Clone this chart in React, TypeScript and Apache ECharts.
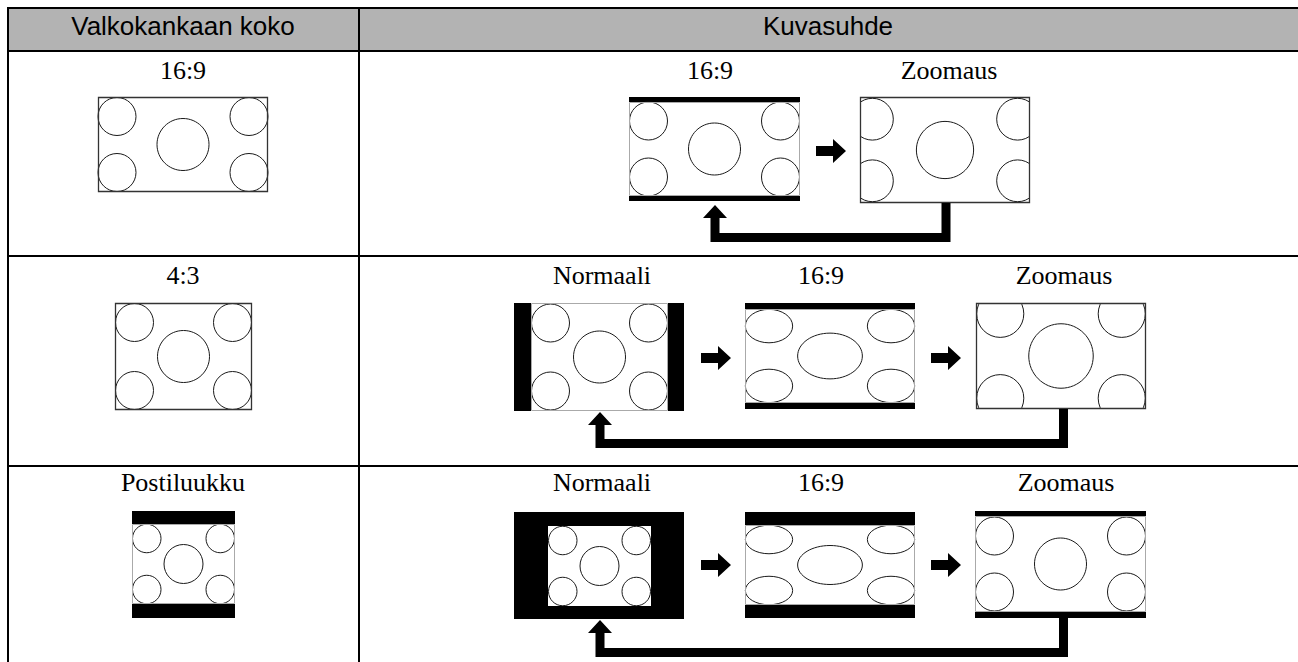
import React, { useEffect, useRef } from "react";
import * as echarts from "echarts";

// ---- texts ----
const headerLabels = ["Valkokankaan koko", "Kuvasuhde"];
const screenSizeLabels = ["16:9", "4:3", "Postiluukku"];
const aspectLabelsRow1 = ["16:9", "Zoomaus"];
const aspectLabelsRow2 = ["Normaali", "16:9", "Zoomaus"];
const aspectLabelsRow3 = ["Normaali", "16:9", "Zoomaus"];

// ---- base picture contents (offsets from picture centre) ----
const scene169 = { dx: 66, dy: 28, r: 19, rc: 26 };
const scene43 = { dx: 49, dy: 34, r: 19, rc: 26 };

// ---- layout ----
const W = 1298;
const H = 662;
const SANS = "Liberation Sans, Arial, sans-serif";
const SERIF = "Liberation Serif, Times New Roman, serif";

type Box = [number, number, number, number];
interface Screen {
  outer: Box | null;
  inner: Box;
  scene: typeof scene169;
  sx: number;
  sy: number;
  border: "dark" | "light" | "none";
  clip: boolean;
}

const screens: Screen[] = [
  // left column
  { outer: null, inner: [98, 97, 170, 95], scene: scene169, sx: 1, sy: 1, border: "dark", clip: false },
  { outer: null, inner: [115, 303, 137, 107], scene: scene43, sx: 1, sy: 1, border: "dark", clip: false },
  { outer: [132, 511, 103, 107], inner: [132, 524, 103, 80], scene: scene43, sx: 0.75, sy: 0.75, border: "light", clip: false },
  // row 1
  { outer: [629, 97, 171, 104], inner: [629, 102, 171, 94], scene: scene169, sx: 1, sy: 1, border: "light", clip: false },
  { outer: null, inner: [860, 97, 170, 106], scene: scene169, sx: 1.1, sy: 1.1, border: "dark", clip: true },
  // row 2
  { outer: [514, 303, 170, 108], inner: [531, 303, 137, 108], scene: scene43, sx: 1, sy: 1, border: "light", clip: false },
  { outer: [745, 303, 170, 106], inner: [745, 309, 170, 94], scene: scene43, sx: 1.245, sy: 0.88, border: "light", clip: false },
  { outer: null, inner: [976, 303, 170, 106], scene: scene43, sx: 1.24, sy: 1.24, border: "dark", clip: true },
  // row 3
  { outer: [514, 512, 170, 107], inner: [548, 526, 103, 80], scene: scene43, sx: 0.75, sy: 0.75, border: "none", clip: false },
  { outer: [745, 512, 170, 106], inner: [745, 525, 170, 80], scene: scene43, sx: 1.245, sy: 0.75, border: "light", clip: false },
  { outer: [975, 511, 171, 107], inner: [975, 516, 171, 96], scene: scene169, sx: 1, sy: 1, border: "light", clip: false },
];

const leftLabelPos = [[183, 70], [183, 275], [183, 482]];
const row1LabelPos = [[710, 70], [949, 70]];
const row2LabelPos = [[602, 275], [821, 275], [1064, 275]];
const row3LabelPos = [[602, 482], [821, 482], [1066, 482]];

const rightArrows = [[816, 151], [701, 358], [931, 358], [701, 565], [931, 565]];
// leftX, rightX, tipY, barTopY, rightTopY
const returnArrows = [
  [715, 946, 205, 233, 203],
  [600, 1063.5, 412, 439, 409],
  [600, 1063.5, 620, 648, 618],
];

function buildElements() {
  const els: any[] = [];
  // white page
  els.push({ type: "rect", shape: { x: 0, y: 0, width: W, height: H }, style: { fill: "#fff" }, silent: true });
  // header background
  els.push({ type: "rect", shape: { x: 9, y: 9, width: W - 9, height: 41 }, style: { fill: "#b3b3b3" }, silent: true });

  // screens
  screens.forEach((s) => {
    const [ix, iy, iw, ih] = s.inner;
    if (s.outer) {
      const [ox, oy, ow, oh] = s.outer;
      els.push({ type: "rect", shape: { x: ox, y: oy, width: ow, height: oh }, style: { fill: "#000" }, silent: true });
    }
    els.push({ type: "rect", shape: { x: ix, y: iy, width: iw, height: ih }, style: { fill: "#fff" }, silent: true });
    const cx = ix + iw / 2;
    const cy = iy + ih / 2;
    const sc = s.scene;
    const stroke = { fill: "none", stroke: "#1a1a1a", lineWidth: 1 };
    const corners = [
      [-1, -1],
      [1, -1],
      [-1, 1],
      [1, 1],
    ];
    corners.forEach(([a, b]) => {
      els.push({
        type: "ellipse",
        shape: { cx: cx + a * sc.dx * s.sx, cy: cy + b * sc.dy * s.sy, rx: sc.r * s.sx, ry: sc.r * s.sy },
        style: stroke,
        silent: true,
      });
    });
    els.push({
      type: "ellipse",
      shape: { cx, cy, rx: sc.rc * s.sx, ry: sc.rc * s.sy },
      style: stroke,
      silent: true,
    });
    if (s.clip) {
      const m = 30;
      els.push({ type: "rect", shape: { x: ix - m, y: iy - m, width: iw + 2 * m, height: m }, style: { fill: "#fff" }, silent: true });
      els.push({ type: "rect", shape: { x: ix - m, y: iy + ih, width: iw + 2 * m, height: m }, style: { fill: "#fff" }, silent: true });
      els.push({ type: "rect", shape: { x: ix - m, y: iy, width: m, height: ih }, style: { fill: "#fff" }, silent: true });
      els.push({ type: "rect", shape: { x: ix + iw, y: iy, width: m, height: ih }, style: { fill: "#fff" }, silent: true });
    }
    if (s.border !== "none") {
      els.push({
        type: "rect",
        shape: { x: ix + 0.5, y: iy + 0.5, width: iw - 1, height: ih - 1 },
        style: {
          fill: "none",
          stroke: s.border === "dark" ? "#333" : "#aaa",
          lineWidth: s.border === "dark" ? 1.3 : 1,
        },
        silent: true,
      });
    }
  });

  // right arrows
  const sh = 5, hh = 12, sl = 17, tl = 30;
  rightArrows.forEach(([x0, cy]) => {
    els.push({
      type: "polygon",
      shape: {
        points: [
          [x0, cy - sh],
          [x0 + sl, cy - sh],
          [x0 + sl, cy - hh],
          [x0 + tl, cy],
          [x0 + sl, cy + hh],
          [x0 + sl, cy + sh],
          [x0, cy + sh],
        ],
      },
      style: { fill: "#000" },
      silent: true,
    });
  });

  // return arrows
  const t = 9, hw = 12, hl = 13;
  returnArrows.forEach(([lx, rx, tipY, barY, rTop]) => {
    const base = tipY + hl;
    const bottom = barY + t;
    els.push({
      type: "polygon",
      shape: {
        points: [
          [lx, tipY],
          [lx + hw, base],
          [lx + t / 2, base],
          [lx + t / 2, barY],
          [rx - t / 2, barY],
          [rx - t / 2, rTop],
          [rx + t / 2, rTop],
          [rx + t / 2, bottom],
          [lx - t / 2, bottom],
          [lx - t / 2, base],
          [lx - hw, base],
        ],
      },
      style: { fill: "#000" },
      silent: true,
    });
  });

  // texts
  const txt = (text: string, x: number, y: number, family: string, size: number) => ({
    type: "text",
    x,
    y,
    style: {
      text,
      fill: "#000",
      fontSize: size,
      fontFamily: family,
      align: "center",
      verticalAlign: "middle",
      textAlign: "center",
      textVerticalAlign: "middle",
    },
    silent: true,
  });
  els.push(txt(headerLabels[0], 183, 26, SANS, 26));
  els.push(txt(headerLabels[1], 828, 26, SANS, 26));
  screenSizeLabels.forEach((l, i) => els.push(txt(l, leftLabelPos[i][0], leftLabelPos[i][1], SERIF, 26)));
  aspectLabelsRow1.forEach((l, i) => els.push(txt(l, row1LabelPos[i][0], row1LabelPos[i][1], SERIF, 26)));
  aspectLabelsRow2.forEach((l, i) => els.push(txt(l, row2LabelPos[i][0], row2LabelPos[i][1], SERIF, 26)));
  aspectLabelsRow3.forEach((l, i) => els.push(txt(l, row3LabelPos[i][0], row3LabelPos[i][1], SERIF, 26)));

  // table lines
  const line = (x: number, y: number, w: number, h: number) => ({
    type: "rect",
    shape: { x, y, width: w, height: h },
    style: { fill: "#000" },
    silent: true,
  });
  els.push(line(7, 7, W - 7, 2));
  els.push(line(7, 50, W - 7, 2));
  els.push(line(7, 255, W - 7, 2));
  els.push(line(7, 465, W - 7, 2));
  els.push(line(7, 7, 2, H - 7));
  els.push(line(358, 7, 2, H - 7));
  return els;
}

export default function App() {
  const ref = useRef<HTMLDivElement>(null);
  useEffect(() => {
    if (!ref.current) return;
    const chart = echarts.init(ref.current, undefined, { renderer: "svg" });
    chart.setOption({
      animation: false,
      backgroundColor: "#fff",
      graphic: { elements: buildElements() },
    });
    return () => chart.dispose();
  }, []);
  return (
    <div
      ref={ref}
      style={{ position: "fixed", left: 0, top: 0, width: W, height: H, background: "#fff" }}
    />
  );
}
